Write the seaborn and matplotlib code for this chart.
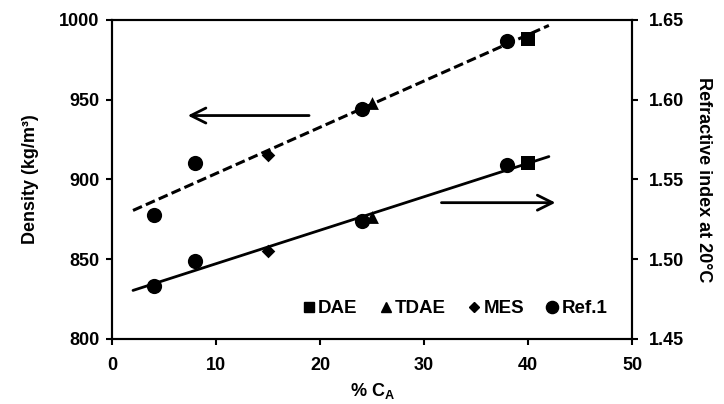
import numpy as np
import pandas as pd
import matplotlib
matplotlib.use("Agg")
import matplotlib.pyplot as plt
import seaborn as sns
from matplotlib.lines import Line2D

# Werte
materials = ["DAE", "TDAE", "MES", "Ref.1", "Ref.1", "Ref.1", "Ref.1"]
ca_percent = [40, 25, 15, 4, 8, 24, 38]
density = [988, 948, 915, 877.5, 910, 944, 987]
refr_index = [1.560, 1.5265, 1.505, 1.483, 1.499, 1.524, 1.559]

legend_order = ["DAE", "TDAE", "MES", "Ref.1"]
marker_map = {"DAE": "s", "TDAE": "^", "MES": "D", "Ref.1": "o"}
size_map = {"DAE": 92, "TDAE": 85, "MES": 48, "Ref.1": 120}

# Trendlinie (Excel-Stil, vorwaerts/rueckwaerts verlaengert)
trend_x = [2, 42]

df = pd.DataFrame({"Material": materials, "CA": ca_percent,
                   "Density": density, "RI": refr_index})

sns.set_theme(style="ticks")
plt.rcParams["font.family"] = ["Liberation Sans", "DejaVu Sans"]
plt.rcParams["font.weight"] = "bold"
plt.rcParams["axes.labelweight"] = "bold"
plt.rcParams["text.color"] = "black"
plt.rcParams["axes.labelcolor"] = "black"
plt.rcParams["xtick.color"] = "black"
plt.rcParams["ytick.color"] = "black"
plt.rcParams["mathtext.fontset"] = "custom"
plt.rcParams["mathtext.rm"] = "Liberation Sans:bold"
plt.rcParams["mathtext.bf"] = "Liberation Sans:bold"
plt.rcParams["mathtext.default"] = "bf"

fig = plt.figure(figsize=(7.24, 4.04), dpi=100)
ax = fig.add_axes([0.155, 0.161, 0.718, 0.790])
ax2 = ax.twinx()

# Trendlinien aus linearem Fit
d_fit = np.polyfit(df["CA"], df["Density"], 1)
r_fit = np.polyfit(df["CA"], df["RI"], 1)
trend = pd.DataFrame({"CA": trend_x,
                      "Density": np.polyval(d_fit, trend_x),
                      "RI": np.polyval(r_fit, trend_x)})
sns.lineplot(data=trend, x="CA", y="Density", ax=ax, color="black",
             lw=2.2, zorder=2)
ax.lines[-1].set_dashes([3.2, 1.4])
sns.lineplot(data=trend, x="CA", y="RI", ax=ax2, color="black", lw=2.0, zorder=2)

for m in legend_order:
    sub = df[df["Material"] == m]
    sns.scatterplot(data=sub, x="CA", y="Density", ax=ax, marker=marker_map[m],
                    s=size_map[m], color="black", edgecolor="black", linewidth=0,
                    zorder=3, legend=False)
    sns.scatterplot(data=sub, x="CA", y="RI", ax=ax2, marker=marker_map[m],
                    s=size_map[m], color="black", edgecolor="black", linewidth=0,
                    zorder=3, legend=False)

# Pfeile
arrow = dict(arrowstyle="->,head_length=0.9,head_width=0.45", lw=2.0, color="black")
ax.annotate("", xy=(7.0, 940), xytext=(19.2, 940), arrowprops=arrow)
ax2.annotate("", xy=(42.9, 1.5354), xytext=(31.4, 1.5354), arrowprops=arrow)

ax.set_xlim(0, 50)
ax.set_ylim(800, 1000)
ax2.set_ylim(1.45, 1.65)
ax.set_xticks(range(0, 51, 10))
ax.set_yticks(range(800, 1001, 50))
ax2.set_yticks([1.45, 1.50, 1.55, 1.60, 1.65])
ax2.set_yticklabels(["1.45", "1.50", "1.55", "1.60", "1.65"])

ax.set_xlabel("% C$_{A}$", fontsize=13, fontweight="bold", labelpad=5)
ax.set_ylabel("Density (kg/m³)", fontsize=13, fontweight="bold", labelpad=15)
ax2.set_ylabel("Refractive index at 20°C", fontsize=13, fontweight="bold",
               rotation=270, labelpad=20)

for a in (ax, ax2):
    a.tick_params(direction="out", length=4, width=1.5, labelsize=13,
                  colors="black", pad=5)
    for s in a.spines.values():
        s.set_linewidth(1.5)
        s.set_color("black")
    for lab in a.get_xticklabels() + a.get_yticklabels():
        lab.set_fontweight("bold")
ax.tick_params(axis="x", pad=9)
ax2.tick_params(axis="y", pad=8)
ax2.tick_params(axis="x", length=0)

handles = []
for m in legend_order:
    handles.append(Line2D([], [], marker=marker_map[m], color="black", ls="",
                          markersize=np.sqrt(size_map[m]) * 0.8))
ax2.legend(handles, legend_order, loc="lower right", ncol=4, frameon=False,
           handletextpad=0.0, columnspacing=1.0, handlelength=1.0,
           bbox_to_anchor=(0.985, 0.015), prop={"weight": "bold", "size": 13.5})

fig.savefig("out.png", dpi=100)
